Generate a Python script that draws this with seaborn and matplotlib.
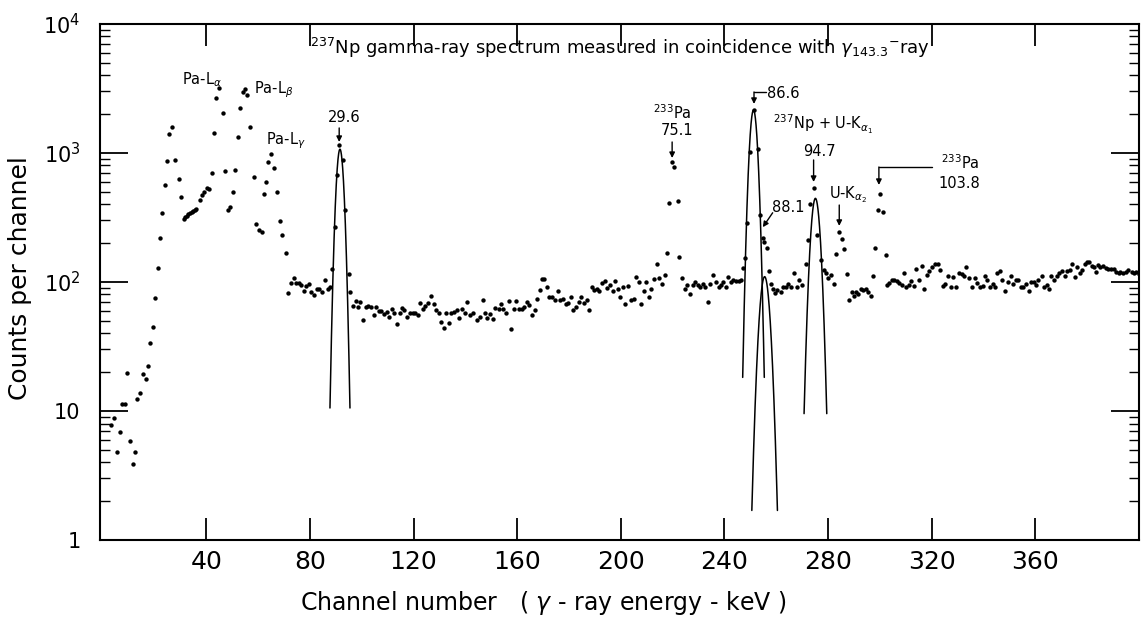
import numpy as np
import pandas as pd
import matplotlib
matplotlib.use("Agg")
import matplotlib.pyplot as plt
from matplotlib.ticker import LogLocator, NullFormatter
import seaborn as sns

# ---------------- data ----------------
channel = [
    3.4, 4.3, 5.5, 6.6, 7.5, 8.8, 9.5, 10.4, 11.6, 12.6, 13.3, 14.5, 15.6, 16.6, 17.5, 18.4, 19.4,
    20.1, 21.4, 22.3, 23.1, 24.1, 24.8, 25.7, 26.8, 28.0, 29.3, 30.4, 31.3, 31.9, 32.5, 33.1, 33.7,
    34.3, 34.9, 35.5, 36.2, 37.4, 38.3, 39.2, 40.3, 41.0, 42.2, 42.8, 43.9, 45.1, 46.4, 47.3, 48.4,
    49.3, 50.3, 51.2, 52.1, 53.1, 54.0, 55.1, 55.9, 57.0, 58.3, 59.3, 60.2, 61.4, 62.4, 63.2, 64.0,
    65.0, 66.2, 67.3, 68.3, 69.3, 70.6, 71.5, 72.7, 73.7, 74.6, 75.6, 76.5, 77.6, 78.6, 79.6, 80.6,
    81.7, 82.7, 83.7, 84.8, 85.8, 86.8, 87.8, 88.7, 89.5, 90.4, 91.3, 92.7, 93.6, 94.9, 95.6, 96.6,
    97.6, 98.6, 99.5, 100.6, 101.6, 102.6, 103.6, 104.6, 105.6, 106.6, 107.6, 108.6, 109.6, 110.5,
    111.5, 112.6, 113.6, 114.6, 115.5, 116.5, 117.6, 118.6, 119.6, 120.6, 121.6, 122.6, 123.6,
    124.6, 125.6, 126.7, 127.7, 128.7, 129.7, 130.7, 131.7, 132.6, 133.6, 134.6, 135.6, 136.7,
    137.7, 138.7, 139.7, 140.8, 141.8, 142.8, 144.3, 145.7, 146.7, 147.5, 148.5, 149.6, 150.6,
    151.6, 152.8, 153.8, 154.7, 155.7, 156.8, 157.8, 158.7, 159.7, 160.7, 161.8, 162.8, 163.7,
    164.7, 165.6, 166.7, 167.7, 168.7, 169.6, 170.4, 171.5, 172.4, 173.5, 174.5, 175.8, 176.7,
    177.7, 178.7, 179.8, 180.8, 181.7, 182.7, 183.8, 184.8, 185.8, 186.9, 187.8, 188.8, 189.8,
    190.7, 191.7, 192.8, 193.8, 194.8, 195.9, 196.9, 197.8, 198.8, 199.7, 200.7, 201.8, 202.8,
    203.8, 204.9, 205.8, 206.9, 207.9, 208.8, 209.9, 210.8, 211.7, 212.8, 213.9, 214.9, 215.9,
    216.9, 217.8, 218.5, 219.6, 220.6, 221.9, 222.6, 223.5, 224.8, 225.7, 226.7, 227.8, 228.7,
    229.6, 230.6, 231.6, 232.6, 233.5, 234.4, 235.7, 236.8, 237.7, 238.6, 239.6, 240.6, 241.5,
    242.4, 243.4, 244.5, 245.5, 246.3, 247.1, 248.0, 248.7, 249.8, 251.3, 253.1, 253.7, 254.8,
    255.4, 256.3, 257.0, 257.8, 258.6, 259.5, 260.4, 261.7, 262.7, 263.8, 264.7, 265.6, 266.9,
    267.9, 268.9, 270.0, 271.5, 272.2, 273.1, 274.4, 275.9, 277.1, 278.3, 279.2, 280.1, 281.1,
    282.3, 283.1, 284.2, 285.2, 286.1, 287.2, 288.2, 289.1, 290.0, 290.8, 291.7, 292.6, 293.6,
    294.6, 295.5, 296.6, 297.2, 298.1, 299.2, 300.0, 301.0, 302.2, 302.9, 303.6, 304.5, 305.4,
    306.4, 307.5, 308.4, 309.3, 310.0, 311.1, 312.1, 313.1, 314.1, 315.0, 316.1, 317.1, 318.1,
    319.0, 320.1, 321.2, 322.4, 323.3, 324.2, 325.2, 326.2, 327.3, 328.2, 329.3, 330.5, 331.5,
    332.4, 333.4, 334.5, 335.5, 336.5, 337.6, 338.6, 339.6, 340.5, 341.4, 342.4, 343.5, 344.5,
    345.3, 346.3, 347.3, 348.4, 349.4, 350.4, 351.4, 352.5, 353.4, 354.3, 355.3, 356.3, 357.4,
    358.3, 359.3, 360.3, 361.2, 362.4, 363.3, 364.3, 365.3, 366.2, 367.1, 368.2, 369.2, 370.2,
    371.4, 372.3, 373.3, 374.3, 375.2, 376.1, 377.2, 378.1, 379.1, 380.0, 380.8, 381.7, 382.6,
    383.3, 384.2, 385.1, 386.2, 387.2, 388.2, 389.2, 390.3, 391.3, 392.1, 392.8, 393.9, 394.9,
    395.9, 397.1, 398.0, 399.0, 399.8,
]
counts = [
    7.8, 8.8, 4.8, 6.9, 11.3, 11.4, 19.8, 5.9, 3.9, 4.8, 12.5, 13.7, 19.4, 17.6, 22.3, 33.5, 44.6,
    74.8, 129, 219, 340, 568, 866, 1397, 1600, 875, 628, 458, 310, 318, 326, 334, 342,
    350, 357, 364, 370, 432, 472, 502, 538, 530, 700, 1421, 2690, 3180, 2040, 727, 361,
    382, 502, 735, 1336, 2220, 2960, 3135, 2810, 1600, 655, 280, 253, 245, 478, 596, 847,
    977, 763, 500, 297, 231, 167, 82, 99, 108, 99, 99, 95, 85, 93, 96, 84,
    79, 89, 88, 83, 103, 88, 91, 125, 268, 675, 1150, 890, 361, 115, 84, 65,
    71, 64, 70, 51, 64, 65, 64, 55, 64, 60, 60, 56, 59, 54,
    62, 57, 47, 57, 63, 61, 54, 57, 57, 57, 55, 69, 62,
    65, 69, 78, 68, 61, 58, 49, 44, 57, 48, 57, 59, 61,
    53, 62, 57, 70, 55, 57, 51, 54, 73, 58, 53, 56, 52,
    63, 62, 67, 62, 58, 71, 43, 62, 71, 62, 62, 64, 70,
    66, 55, 61, 74, 86, 106, 105, 92, 76, 76, 73, 85, 73,
    74, 67, 69, 77, 61, 64, 70, 77, 69, 72, 61, 92, 87,
    89, 85, 99, 101, 90, 95, 85, 102, 88, 77, 92, 68, 93,
    72, 74, 109, 100, 68, 85, 100, 77, 88, 106, 138, 107, 96,
    114, 169, 410, 858, 784, 425, 157, 107, 89, 95, 81, 95, 100,
    95, 92, 97, 92, 70, 96, 113, 100, 92, 94, 100, 92, 110,
    100, 104, 102, 102, 103, 128, 153, 289, 1015, 2150, 1065, 330, 220,
    205, 184, 122, 96, 88, 82, 86, 83, 91, 92, 96, 92, 117,
    92, 103, 95, 139, 211, 400, 540, 231, 148, 124, 117, 107, 114,
    97, 164, 246, 214, 180, 115, 73, 84, 78, 84, 81, 89, 87,
    89, 84, 78, 112, 182, 361, 483, 350, 162, 95, 99, 103, 104,
    102, 99, 95, 117, 91, 95, 101, 93, 127, 104, 133, 89, 114,
    122, 131, 139, 139, 123, 93, 97, 111, 92, 110, 92, 118, 116,
    112, 131, 108, 92, 108, 99, 92, 93, 111, 104, 92, 97, 92,
    117, 122, 104, 85, 100, 111, 96, 103, 103, 92, 92, 97, 85,
    100, 100, 95, 104, 112, 92, 95, 88, 112, 104, 111, 117, 122,
    111, 122, 124, 138, 110, 131, 118, 123, 139, 143, 143, 134, 131,
    120, 136, 131, 134, 129, 127, 125, 125, 120, 117, 120, 118, 120,
    123, 120, 118, 120, 116,
]

# fitted peaks (Gaussian fits drawn as lines)
peak_centre = [91.6, 251.2, 255.5, 275.1]
peak_height = [1070, 2150, 110, 445]
peak_sigma = [1.27, 1.35, 1.71, 1.58]
peak_halfwidth = [3.86, 4.17, 4.94, 4.38]

x_ticks = [40, 80, 120, 160, 200, 240, 280, 320, 360]
y_ticks = [1, 10, 100, 1000, 10000]
y_tick_labels = ["1", "10", r"$10^2$", r"$10^3$", r"$10^4$"]

# ---------------- style ----------------
sns.set_theme(style="ticks")
plt.rcParams["font.family"] = ["DejaVu Sans"]
plt.rcParams["mathtext.fontset"] = "dejavusans"
plt.rcParams["text.color"] = "black"
plt.rcParams["axes.labelcolor"] = "black"
plt.rcParams["xtick.color"] = "black"
plt.rcParams["ytick.color"] = "black"
plt.rcParams["axes.edgecolor"] = "black"

fig = plt.figure(figsize=(11.42, 6.21), dpi=100)
ax = fig.add_axes([0.0876, 0.1304, 0.9098, 0.8310])

df = pd.DataFrame({"channel": channel, "counts": counts})
sns.scatterplot(data=df, x="channel", y="counts", s=10, color="black",
                linewidth=0, ax=ax, zorder=3)

for c, h, s, w in zip(peak_centre, peak_height, peak_sigma, peak_halfwidth):
    xs = np.linspace(c - w, c + w, 300)
    ys = h * np.exp(-(xs - c) ** 2 / (2 * s * s))
    sns.lineplot(x=xs, y=ys, color="black", lw=1.1, ax=ax, sort=False,
                 estimator=None)

ax.set_yscale("log")
ax.set_xlim(-1, 400)
ax.set_ylim(1, 1e4)

ax.set_xticks(x_ticks)
ax.set_xticklabels([str(t) for t in x_ticks], fontsize=18, color="black")
ax.set_yticks(y_ticks)
ax.set_yticklabels(y_tick_labels, fontsize=15, color="black")
ax.yaxis.set_minor_locator(LogLocator(base=10, subs=range(2, 10), numticks=20))
ax.yaxis.set_minor_formatter(NullFormatter())
ax.xaxis.set_minor_locator(plt.NullLocator())

ax.tick_params(axis="x", which="major", direction="in", length=16, width=1.3,
               top=True, pad=7, colors="black")
ax.tick_params(axis="y", which="major", direction="in", length=20, width=1.3,
               right=True, pad=14, colors="black")
ax.tick_params(axis="y", which="minor", direction="in", length=7, width=1.0,
               right=True, colors="black")
for sp in ax.spines.values():
    sp.set_visible(True)
    sp.set_linewidth(1.5)
    sp.set_color("black")

ax.set_xlabel("")
ax.set_ylabel("")
fig.text(543 / 1142, 1 - 603 / 621,
         r"Channel number   ( $\gamma$ - ray energy - keV )",
         fontsize=17, ha="center", va="center", color="black")
fig.text(20 / 1142, 1 - 278 / 621, "Counts per channel", fontsize=18,
         rotation=90, ha="center", va="center", color="black")

# title inside the axes
ax.text(0.5005, 0.953,
        r"$^{237}$Np gamma-ray spectrum measured in coincidence with $\gamma_{143.3}$$^{-}$ray",
        transform=ax.transAxes, fontsize=13, ha="center", va="center",
        color="black")

fs = 10.5
arrow = dict(arrowstyle="-|>", color="black", lw=1.0, mutation_scale=8,
             shrinkA=0, shrinkB=0)

ax.text(38.5, 3680, r"Pa-L$_\alpha$", fontsize=fs, ha="center", va="center")
ax.text(65.9, 3078, r"Pa-L$_\beta$", fontsize=fs, ha="center", va="center")
ax.text(70.9, 1239, r"Pa-L$_\gamma$", fontsize=fs, ha="center", va="center")

ax.text(93.2, 1868, "29.6", fontsize=fs, ha="center", va="center")
ax.annotate("", xy=(91.3, 1217), xytext=(91.3, 1563), arrowprops=arrow)

ax.text(219.8, 2042, r"$^{233}$Pa", fontsize=fs, ha="center", va="center")
ax.text(221.7, 1482, "75.1", fontsize=fs, ha="center", va="center")
ax.annotate("", xy=(219.8, 914), xytext=(219.8, 1217), arrowprops=arrow)

ax.text(262.6, 2867, "86.6", fontsize=fs, ha="center", va="center")
ax.plot([256.1, 251.4], [2972, 2972], color="black", lw=1.0)
ax.annotate("", xy=(251.4, 2399), xytext=(251.4, 2972), arrowprops=arrow)

ax.text(258.8, 1678, r"$^{237}$Np + U-K$_{\alpha_1}$", fontsize=fs,
        ha="left", va="center")
ax.text(276.5, 1018, "94.7", fontsize=fs, ha="center", va="center")
ax.annotate("", xy=(274.4, 596), xytext=(274.4, 883), arrowprops=arrow)

ax.text(264.5, 375, "88.1", fontsize=fs, ha="center", va="center")
ax.annotate("", xy=(254.8, 266), xytext=(258.6, 344), arrowprops=arrow)

ax.text(287.7, 472, r"U-K$_{\alpha_2}$", fontsize=fs, ha="center", va="center")
ax.annotate("", xy=(284.3, 272), xytext=(284.3, 395), arrowprops=arrow)

ax.text(330.9, 836, r"$^{233}$Pa", fontsize=fs, ha="center", va="center")
ax.text(330.5, 585, "103.8", fontsize=fs, ha="center", va="center")
ax.plot([320.1, 299.6], [779, 779], color="black", lw=1.0)
ax.annotate("", xy=(299.6, 565), xytext=(299.6, 779), arrowprops=arrow)

fig.savefig("out.png", dpi=100, facecolor="white")
